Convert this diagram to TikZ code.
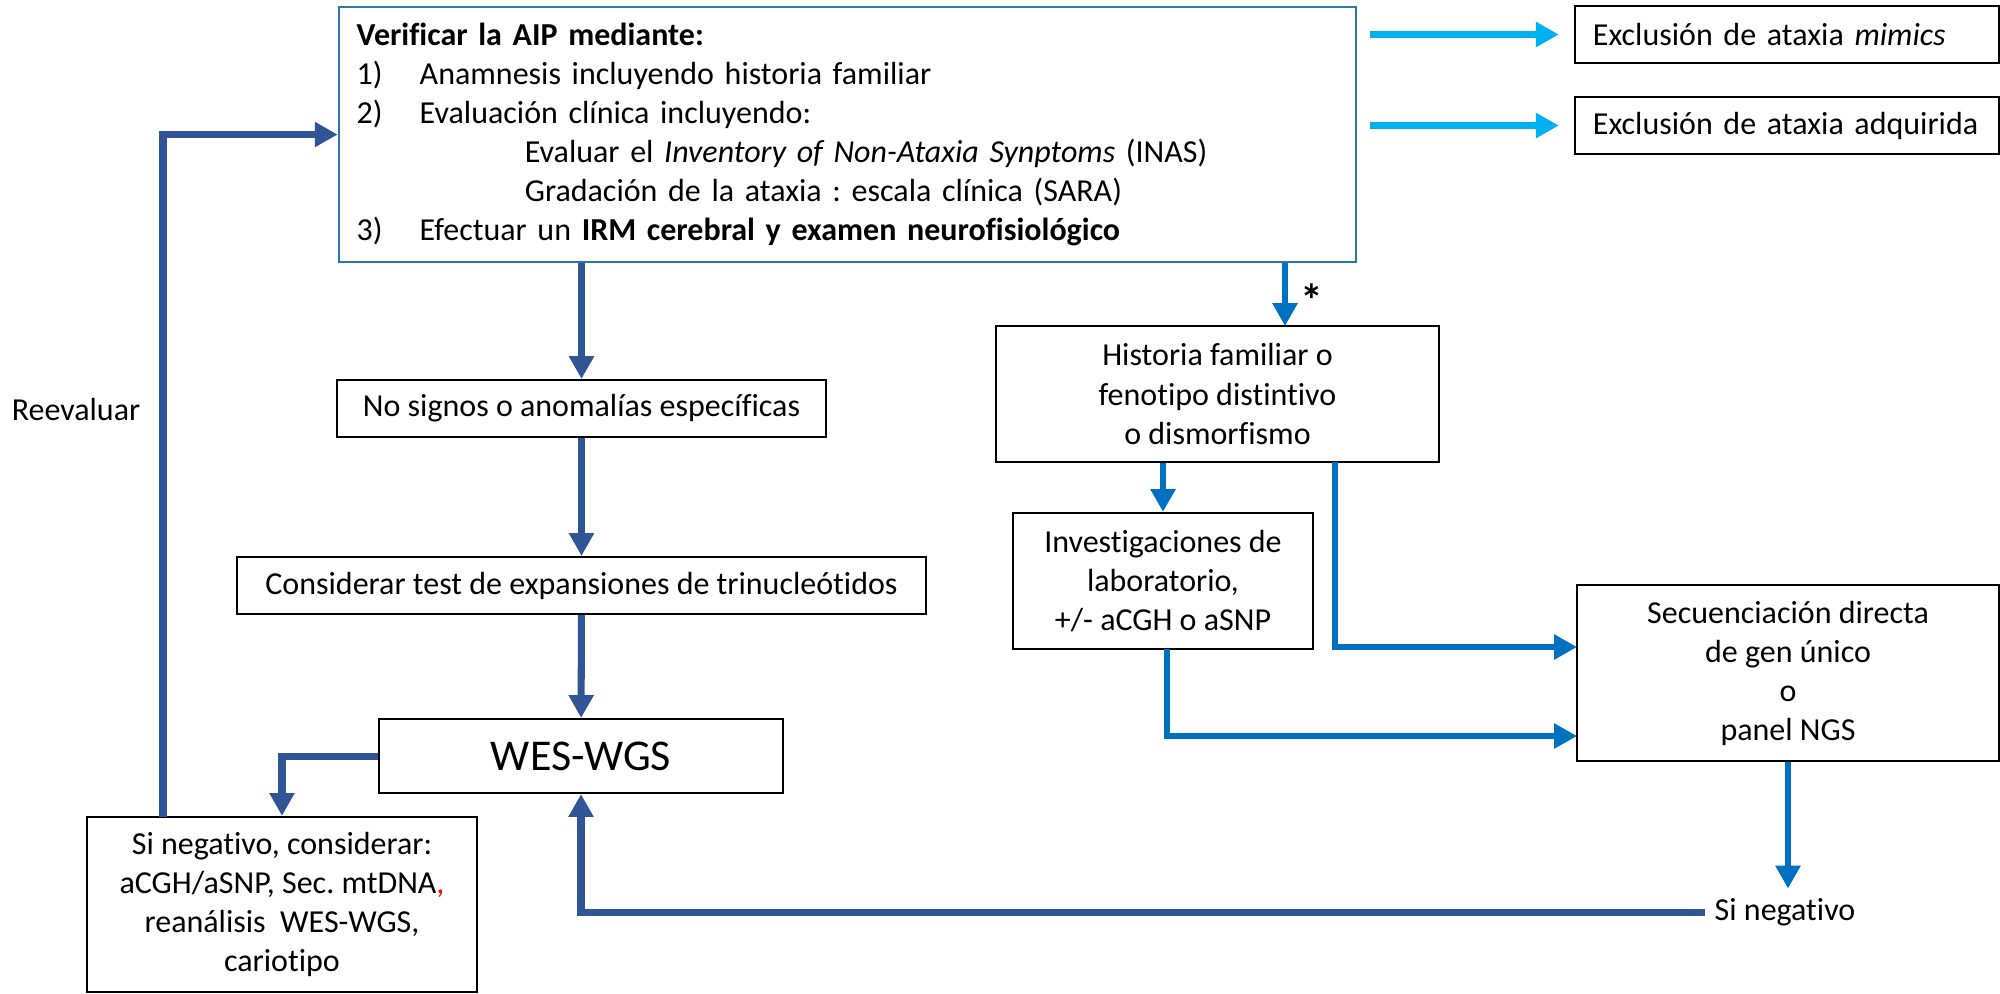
\documentclass[tikz,border=0pt]{standalone}
\usepackage{fontspec}
\setmainfont{Carlito}[Ligatures=NoCommon]
\usetikzlibrary{arrows.meta}
\definecolor{darkblue}{HTML}{2F5597}
\definecolor{midblue}{HTML}{0070C0}
\definecolor{skyblue}{HTML}{00B0F0}
\definecolor{boxblue}{HTML}{2E75B6}
\frenchspacing
\begin{document}
\begin{tikzpicture}[x=0.01cm, y=-0.01cm,
        box/.style={draw, line width=0.6pt, inner sep=0pt, align=center, font=\fontsize{9.1}{11.1}\selectfont},
        txt/.style={inner sep=0.09cm, font=\fontsize{9.1}{11.1}\selectfont},
        darr/.style={draw=darkblue, line width=2pt, -{Triangle[length=6.5pt,width=6.8pt]}},
        marr/.style={draw=midblue, line width=1.7pt, -{Triangle[length=6.5pt,width=6.8pt]}},
        carr/.style={draw=skyblue, line width=1.9pt, -{Triangle[length=6.5pt,width=6.8pt]}, shorten <=0.13cm, shorten >=0.15cm}]
        \useasboundingbox (0,0) rectangle (2000,993);

        \node[box, draw=boxblue, align=left, minimum width=10.17cm, minimum height=2.55cm, text width=9.81cm, inner xsep=0.18cm] (main) at (847.5,134.5)
            {\textbf{Verificar la AIP mediante:}\\
             \makebox[0.63cm][l]{1)}Anamnesis incluyendo historia familiar\\
             \makebox[0.63cm][l]{2)}Evaluación clínica incluyendo:\\
             \hspace*{1.68cm}Evaluar el \textit{Inventory of Non-Ataxia Synptoms} (INAS)\\
             \hspace*{1.68cm}Gradación de la ataxia : escala clínica (SARA)\\
             \makebox[0.63cm][l]{3)}Efectuar un \textbf{IRM cerebral y examen neurofisiológico}};
        \node[box, align=left, minimum width=4.24cm, minimum height=0.57cm, text width=3.88cm, inner xsep=0.18cm] (mimics) at (1787,34.5) {Exclusión de ataxia \textit{mimics}};
        \node[box, align=left, minimum width=4.24cm, minimum height=0.57cm, text width=3.88cm, inner xsep=0.18cm] (adquirida) at (1787,125.5) {Exclusión de ataxia adquirida};

        \node[box, minimum width=4.89cm, minimum height=0.57cm] (nosignos) at (581.5,408.5) {No signos o anomalías específicas};
        \node[box, minimum width=6.89cm, minimum height=0.57cm] (considerar) at (581.5,585.5) {Considerar test de expansiones de trinucleótidos};
        \node[box, minimum width=4.04cm, minimum height=0.74cm, font=\fontsize{12.5}{14}\selectfont] (wes) at (581,756) {WES-WGS};
        \node[box, minimum width=3.90cm, minimum height=1.75cm] (negbox) at (282,904.5)
            {Si negativo, considerar:\\ aCGH/aSNP, Sec. mtDNA{\color{red},}\\ reanálisis\ \ WES-WGS,\\ cariotipo};
        \node[txt] (reeval) at (76,409) {Reevaluar};

        \node[box, minimum width=4.43cm, minimum height=1.36cm] (historia) at (1217.5,394) {Historia familiar o\\ fenotipo distintivo\\ o dismorfismo};
        \node[txt, font=\fontsize{13}{14}\bfseries] (star) at (1312,300) {*};
        \node[box, minimum width=3.00cm, minimum height=1.36cm] (invest) at (1163,581) {Investigaciones de\\ laboratorio,\\ +/- aCGH o aSNP};
        \node[box, minimum width=4.22cm, minimum height=1.76cm] (secuen) at (1788,673) {Secuenciación directa\\ de gen único\\ o\\ panel NGS};
        \node[txt] (sineg) at (1785,912) {Si negativo};

        \coordinate (reup) at (163,817);
        \coordinate (hin) at (1285,326);
        \coordinate (hout) at (1335,462);
        \coordinate (iout) at (1167,649);
        \coordinate (sin1) at (1577,647);
        \coordinate (sin2) at (1577,736);

        % Edges
        \draw[carr] (main.east |- mimics.west) -- (mimics.west);
        \draw[carr] (main.east |- adquirida.west) -- (adquirida.west);
        \draw[darr] (main.south -| nosignos.north) -- (nosignos.north);
        \draw[darr] (nosignos) -- (considerar);
        \draw[darr] (considerar) -- (wes);
        \draw[darr] (wes.west) -| (negbox.north);
        \draw[darr] (reup) |- (main.west);
        \draw[darr] (sineg.west) -| (wes.south);
        \draw[marr] (main.south -| hin) -- (hin);
        \draw[marr] (historia.south -| invest.north) -- (invest.north);
        \draw[marr] (hout) |- (sin1);
        \draw[marr] (iout) |- (sin2);
        \draw[marr] (secuen.south) -- (secuen.south |- sineg.north);
\end{tikzpicture}
\end{document}
